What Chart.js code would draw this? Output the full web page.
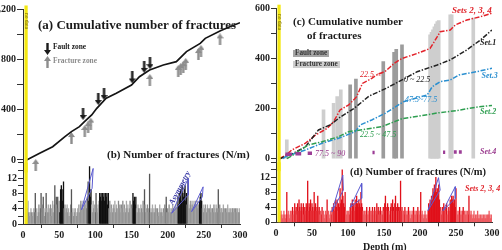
<!DOCTYPE html>
<html>
<head>
<meta charset="utf-8">
<title>Fracture profiles</title>
<script src="https://cdn.jsdelivr.net/npm/chart.js@4.4.1/dist/chart.umd.min.js"></script>
<style>
  html, body { margin: 0; padding: 0; background: #fff; }
  #fig { position: relative; width: 502px; height: 250px; overflow: hidden; font-family: "Liberation Serif", "Times New Roman", serif; }
  #fig canvas { position: absolute; }
  .lbl { position: absolute; white-space: nowrap; line-height: 1; }
  .b { font-weight: bold; }
  .i { font-style: italic; }
  .box { position: absolute; white-space: nowrap; line-height: 7px; height: 7px; font-weight: bold; color: #333; padding: 0 2px; }
  .rot { transform-origin: center; }
</style>
</head>
<body>
<div id="fig">
  <canvas id="cumA" width="250" height="180" style="left:0;top:0"></canvas>
  <canvas id="barB" width="250" height="95" style="left:0;top:155px"></canvas>
  <canvas id="cumC" width="252" height="180" style="left:250px;top:0"></canvas>
  <canvas id="barD" width="252" height="95" style="left:250px;top:155px"></canvas>

  <!-- left panel text -->
  <div class="lbl b" style="left:38px;top:17.5px;font-size:13px;color:#1a1a1a">(a) Cumulative number of fractures</div>
  <div class="lbl b" style="left:53px;top:43px;font-size:7.4px;color:#1a1a1a">Fault zone</div>
  <div class="lbl b" style="left:53px;top:57.3px;font-size:7.4px;color:#8c8c8c">Fracture zone</div>
  <div class="lbl b" style="left:107px;top:148.5px;font-size:11px;color:#1a1a1a">(b) Number of fractures (N/m)</div>
  <div class="lbl b i rot" style="left:180px;top:188px;font-size:8px;color:#3c3ca8;transform:translate(-50%,-50%) rotate(-62deg)">Asymmetry</div>
  <div class="lbl rot" style="left:26px;top:21px;font-size:5.5px;color:#6b5d00;transform:translate(-50%,-50%) rotate(90deg)">no data</div>

  <!-- right panel text -->
  <div class="lbl b" style="left:293px;top:16.2px;font-size:11px;color:#1a1a1a">(c) Cumulative number</div>
  <div class="lbl b" style="left:307px;top:29.5px;font-size:11px;color:#1a1a1a">of fractures</div>
  <div class="box" style="left:293px;top:50px;font-size:7.2px;background:#a6a6a6">Fault zone</div>
  <div class="box" style="left:293px;top:61px;font-size:7.2px;background:#cdcdcd">Fracture zone</div>
  <div class="lbl b i" style="left:452px;top:6px;font-size:9px;color:#e0242b">Sets 2, 3, 4</div>
  <div class="lbl b i" style="left:480px;top:38.7px;font-size:8px;color:#222">Set.1</div>
  <div class="lbl b i" style="left:481.5px;top:72px;font-size:8px;color:#2a8fd0">Set.3</div>
  <div class="lbl b i" style="left:480px;top:107.7px;font-size:8px;color:#2e9e50">Set.2</div>
  <div class="lbl b i" style="left:480px;top:148.3px;font-size:8px;color:#9a3b8e">Set.4</div>
  <div class="lbl i" style="left:360px;top:71px;font-size:8px;color:#e0242b">22.5 &lt;</div>
  <div class="lbl i" style="left:404px;top:76px;font-size:8px;color:#222">0 ~ 22.5</div>
  <div class="lbl i" style="left:405px;top:96px;font-size:8px;color:#2a8fd0">47.5~77.5</div>
  <div class="lbl i" style="left:360px;top:131px;font-size:8px;color:#2e9e50">22.5 ~ 47.5</div>
  <div class="lbl i" style="left:315px;top:149.5px;font-size:8px;color:#9a3b8e">77.5 ~ 90</div>
  <div class="lbl b" style="left:350px;top:167.2px;font-size:10.5px;color:#1a1a1a">(d) Number of fractures (N/m)</div>
  <div class="lbl b i" style="left:465px;top:185px;font-size:8px;color:#e0242b">Sets 2, 3, 4</div>
  <div class="lbl b" style="left:363px;top:242px;font-size:10px;color:#1a1a1a">Depth (m)</div>
  <div class="lbl rot" style="left:278.7px;top:22px;font-size:5.5px;color:#6b5d00;transform:translate(-50%,-50%) rotate(90deg)">no data</div>
</div>

<script>
/* =====================
   FRACTURE PROFILES
   ===================== */

/* ---- DATA ---- */
const NO_DATA = [2, 6.5];          // depth interval without core (m)
const FIRST_DEPTH = 5;             // first metre of the N/m logs

// (a) cumulative number, all fractures
const CUM_DEPTH = [5, 23, 41, 58, 67, 78, 85, 95, 102, 115, 129, 150, 161, 175, 194, 212, 226, 245, 252, 273, 286, 300];
const CUM_COUNT = [0, 53, 106, 186, 226, 266, 305, 359, 412, 492, 532, 598, 664, 718, 757, 784, 864, 930, 970, 1031, 1063, 1095];

const FAULT_ARROW_DEPTH = [83, 104, 112, 151, 167.5, 175.5];
const FAULT_ARROW_AT    = [367, 486, 526, 658, 742, 772];
const FRACT_ARROW_DEPTH = [17.6, 67, 85.4, 90, 93.7, 175.4, 214.6, 218, 221.5, 225, 242.5, 246, 272.4];
const FRACT_ARROW_AT    = [-40, 175, 231, 262, 290, 638, 710, 725, 740, 766, 845, 870, 962];

// (b) fractures per metre, all sets
const GREY_N = [
  3,4,6,3,2,3,4,3,2,3,  4,3,8,3,4,2,3,5,3,4,  8,3,5,7,4,2,3,8,4,3,  5,3,4,5,2,4,6,3,5,10,
  4,7,5,7,4,6,3,9,10,9, 6,11,4,5,3,4,5,3,4,2, 3,5,9,3,4,2,3,4,3,2,  3,4,5,3,5,6,4,5,6,4,
  6,5,6,4,7,11,6,15,7,9, 5,3,6,4,5,3,8,4,3,5, 6,8,7,8,6,8,7,8,6,8,  7,8,5,8,4,6,3,5,4,3,
  5,4,6,3,5,4,3,6,4,5,  3,5,4,6,3,5,4,3,6,4,  5,3,4,6,3,5,4,8,6,7,  5,7,4,3,5,4,4,3,5,4,
  3,6,4,9,5,3,4,5,3,4,  13,3,4,3,5,3,4,3,5,4, 3,4,2,3,5,3,4,3,2,4,  3,5,4,7,3,4,3,5,4,3,
  4,3,5,4,3,4,5,4,6,7,  5,8,7,9,6,10,8,7,9,10, 6,8,5,12,6,4,5,6,4,5, 6,4,5,6,4,5,6,4,5,6,
  7,8,6,4,5,3,4,5,4,3,  5,4,3,4,5,3,4,4,3,5,  4,3,5,4,3,9,4,5,3,4,  4,3,5,4,3,4,3,4,5,3,
  4,3,4,3,4,4,3,4,3,4,  3,4,3,3,4,3
];
const DARK_ZONES = [[51, 56], [91, 94], [106, 118], [152, 156], [215, 226], [244, 247]];
const TRI_B = [
  [[80.8, 3.7], [97, 14.5], [95.5, 9.3]],
  [[205.5, 2.8], [228.5, 11.9], [228.5, 7.6]],
  [[233, 3.2], [249, 9.7], [248, 7.1]]
];

// (c) cumulative number by orientation set
const ZONE_DEPTH = [15, 66, 80, 85, 90, 103, 111, 149, 164, 167, 175, 214, 216, 218, 220, 222, 224, 226, 242, 244, 274];
const ZONE_TOP   = [75, 195, 221, 248, 275, 295, 318, 388, 425, 437, 455, 495, 505, 515, 527, 538, 548, 552, 575, 575, 562];
const ZONE_FAULT = [0, 0, 0, 0, 0, 1, 1, 1, 1, 1, 1, 0, 0, 0, 0, 0, 0, 0, 0, 0, 0];

const SET234_DEPTH = [5, 14, 22, 41, 55, 71, 80, 89, 101, 112, 120, 133, 140, 152, 159, 164, 175, 196, 214, 224, 228, 242, 249, 265, 284, 300];
const SET234_COUNT = [0, 15, 35, 62, 95, 121, 148, 195, 215, 248, 301, 321, 335, 350, 368, 381, 401, 421, 441, 488, 508, 515, 535, 555, 568, 582];
const SET1_DEPTH = [5, 20, 41, 59, 75, 90, 108, 129, 152, 177, 196, 224, 242, 265, 284, 300];
const SET1_COUNT = [0, 15, 48, 115, 135, 168, 200, 250, 280, 318, 348, 375, 395, 435, 475, 515];
const SET3_DEPTH = [10, 13, 41, 64, 87, 110, 117, 133, 152, 177, 210, 217, 228, 242, 254, 279, 300];
const SET3_COUNT = [0, 8, 35, 62, 82, 108, 135, 155, 182, 228, 255, 288, 308, 315, 335, 348, 362];
const SET2_DEPTH = [15, 20, 45, 64, 87, 101, 147, 175, 210, 224, 250, 280, 300];
const SET2_COUNT = [0, 8, 55, 68, 88, 108, 128, 160, 176, 183, 192, 207, 213];
const SET4_FROM  = [13, 27, 44, 134, 232, 247, 254];
const SET4_TO    = [22, 35, 50, 137, 235, 251, 258];
const SET4_LEVEL = [18, 20, 22, 25, 26, 27, 27];

// (d) fractures per metre, sets 2, 3, 4
const RED_N = [
  3,2,3,2,1,2,3,2,1,2,  8,2,3,2,1,3,2,3,4,2,  3,5,3,4,2,5,3,6,4,3,  5,4,3,5,2,4,3,5,4,11,
  3,5,4,6,3,5,4,3,8,4,  5,3,4,7,3,4,2,3,2,4,  2,3,1,2,3,2,6,2,3,1,  2,3,2,4,3,5,3,4,6,4,
  6,3,5,4,9,5,6,14,7,5, 4,8,3,2,3,2,3,2,4,5,  3,6,4,5,3,6,4,7,5,4,  6,5,4,8,5,4,3,2,3,2,
  3,4,2,3,2,4,3,2,3,4,  3,2,4,3,2,5,3,4,2,3,  4,2,3,2,4,3,5,7,4,3,  5,4,3,2,4,5,3,6,4,3,
  5,7,4,3,5,4,3,4,11,3, 4,2,3,2,4,3,2,3,2,4,  2,3,1,2,3,2,4,2,3,2,  3,2,4,3,2,3,8,2,3,2,
  1,2,3,2,1,2,3,5,4,6,  5,7,6,9,8,10,9,12,8,9, 7,10,6,4,3,2,4,3,5,3, 4,3,5,2,3,4,3,6,5,7,
  6,7,5,6,4,9,3,2,3,2,  4,2,3,2,3,4,2,3,2,3,  2,3,2,7,3,2,3,2,1,2,  3,1,2,1,2,3,1,2,1,2,
  1,2,1,2,1,2,1,2,1,2,  2,3,2,1,2,1
];
const TRI_D = [
  [[77.5, 2.8], [92.8, 12.6], [93.6, 8.6]],
  [[103, 4], [119, 10.4], [119, 6.4]],
  [[211, 3.1], [225.7, 11.9], [228, 8.6]],
  [[232, 3.1], [249, 9.5], [249, 6.4]]
];

/* ---- STYLE ---- */
const AXIS = '#333';
const YELLOW = '#f4e812';
const TRI_COLOR = '#5b5bd0';
const TICK_FONT = { family: 'Liberation Serif', size: 10, weight: 'bold' };

/* ---- HELPERS ---- */
function pairs(xs, ys) {
  return xs.map((x, i) => ({ x, y: ys[i] }));
}

function perMetre(vals) {
  return vals.map((v, i) => ({ x: FIRST_DEPTH + i, y: v }));
}

function inDark(d) {
  return DARK_ZONES.some(([a, b]) => d >= a && d <= b);
}

function arrowImage(color, up) {
  const c = document.createElement('canvas');
  c.width = 7; c.height = 12;
  const g = c.getContext('2d');
  const pts = [[3.5, 0], [7, 5], [4.7, 5], [4.7, 12], [2.3, 12], [2.3, 5], [0, 5]];
  g.fillStyle = color;
  g.beginPath();
  pts.forEach(([x, y], i) => {
    const yy = up ? y : 12 - y;
    i ? g.lineTo(x, yy) : g.moveTo(x, yy);
  });
  g.closePath();
  g.fill();
  return c;
}

function triangle(t) {
  const d = [...t, t[0]].map(([x, y]) => ({ x, y }));
  return { type: 'line', data: d, borderColor: TRI_COLOR, borderWidth: 1, pointRadius: 0, order: 0 };
}

function setLine(xs, ys, color) {
  return {
    type: 'line', data: pairs(xs, ys), borderColor: color, borderWidth: 1.5,
    borderDash: [5, 1.6, 1.4, 1.6], pointRadius: 0, order: 1
  };
}

function set4Data() {
  const out = [];
  SET4_FROM.forEach((a, i) => {
    out.push({ x: a, y: SET4_LEVEL[i] }, { x: SET4_TO[i], y: SET4_LEVEL[i] }, { x: SET4_TO[i] + 0.5, y: null });
  });
  return out;
}

/* ---- SCALES ---- */
function yScale(o) {
  return {
    min: o.min, max: o.max,
    afterFit: s => { s.width = o.width; },
    afterBuildTicks: s => { s.ticks = s.ticks.filter(t => t.value >= 0 && t.value % o.step === 0); },
    grid: { drawOnChartArea: false, tickLength: o.tick, color: AXIS },
    border: { display: true, color: AXIS, width: 1 },
    ticks: {
      stepSize: o.step, padding: 1, color: '#1e1e1e', font: TICK_FONT, autoSkip: false,
      callback: v => (v % o.label === 0 && v <= o.last) ? v.toLocaleString('en-US') : ''
    }
  };
}

function xScale(show, height) {
  return {
    type: 'linear', min: 0, max: 300, offset: false, display: show,
    afterFit: s => { if (show) s.height = height; },
    grid: { drawOnChartArea: false, tickLength: 4, color: AXIS },
    border: { display: true, color: AXIS, width: 1 },
    ticks: { stepSize: 50, padding: 1, color: '#1e1e1e', font: TICK_FONT, maxRotation: 0, autoSkip: false }
  };
}

/* ---- NO DATA BAND ---- */
const noDataBand = {
  id: 'noData',
  afterDatasetsDraw(chart, args, opts) {
    const { ctx, chartArea, scales: { x } } = chart;
    const x0 = x.getPixelForValue(NO_DATA[0]);
    const x1 = x.getPixelForValue(NO_DATA[1]);
    ctx.save();
    ctx.fillStyle = YELLOW;
    ctx.fillRect(x0, chartArea.top - opts.up, x1 - x0, chartArea.bottom - chartArea.top + opts.up);
    ctx.restore();
  }
};
Chart.register(noDataBand);

function base(padding, scales, up) {
  return {
    responsive: false, animation: false, events: [],
    layout: { padding },
    plugins: { legend: { display: false }, tooltip: { enabled: false }, noData: { up } },
    scales
  };
}

/* ---- (a) ---- */
new Chart(document.getElementById('cumA'), {
  type: 'scatter',
  data: { datasets: [
    { data: pairs(CUM_DEPTH, CUM_COUNT), showLine: true, borderColor: '#151515', borderWidth: 1.7, pointRadius: 0 },
    { data: pairs(FAULT_ARROW_DEPTH, FAULT_ARROW_AT), pointStyle: arrowImage('#1b1b1b', false), pointRadius: 3, clip: false },
    { data: pairs(FRACT_ARROW_DEPTH, FRACT_ARROW_AT), pointStyle: arrowImage('#8d8d8d', true), pointRadius: 3, clip: false }
  ]},
  options: base({ top: 9.5, right: 10, bottom: 7.5, left: 0 }, {
    x: xScale(false),
    y: yScale({ min: -100, max: 1200, step: 200, label: 400, last: 1200, width: 23, tick: 6 })
  }, 4)
});

/* ---- (b) ---- */
new Chart(document.getElementById('barB'), {
  type: 'bar',
  data: { datasets: [
    {
      data: perMetre(GREY_N), barThickness: 0.65, order: 2,
      backgroundColor: c => {
        const d = FIRST_DEPTH + c.dataIndex;
        const v = GREY_N[c.dataIndex];
        if (inDark(d)) return '#101010';
        if (v >= 7) return '#555555';
        return c.dataIndex % 2 ? '#8a8a8a' : '#a8a8a8';
      }
    },
    ...TRI_B.map(triangle)
  ]},
  options: base({ top: 7.7, right: 10, bottom: 0, left: 0 }, {
    x: xScale(true, 26),
    y: yScale({ min: 0, max: 16, step: 2, label: 4, last: 12, width: 23, tick: 5 })
  }, 0)
});

/* ---- (c) ---- */
new Chart(document.getElementById('cumC'), {
  type: 'bar',
  data: { datasets: [
    {
      data: pairs(ZONE_DEPTH, ZONE_TOP), barThickness: 3, order: 5,
      backgroundColor: c => ZONE_FAULT[c.dataIndex] ? '#9c9c9c' : '#cecece'
    },
    setLine(SET2_DEPTH, SET2_COUNT, '#2e9e50'),
    setLine(SET3_DEPTH, SET3_COUNT, '#2a8fd0'),
    setLine(SET1_DEPTH, SET1_COUNT, '#222222'),
    setLine(SET234_DEPTH, SET234_COUNT, '#e3232b'),
    { type: 'line', data: set4Data(), borderColor: '#9c3d96', borderWidth: 3.5, pointRadius: 0, spanGaps: false, order: 0 }
  ]},
  options: base({ top: 8.7, right: 10, bottom: 8.8, left: 0 }, {
    x: xScale(false),
    y: yScale({ min: -50, max: 600, step: 100, label: 200, last: 600, width: 26, tick: 5 })
  }, 4)
});

/* ---- (d) ---- */
new Chart(document.getElementById('barD'), {
  type: 'bar',
  data: { datasets: [
    {
      data: perMetre(RED_N), barThickness: 0.65, order: 2,
      backgroundColor: c => RED_N[c.dataIndex] >= 4 ? '#e0101a' : '#ee5a60'
    },
    ...TRI_D.map(triangle)
  ]},
  options: base({ top: 7.3, right: 10, bottom: 0, left: 0 }, {
    x: xScale(true, 27.7),
    y: yScale({ min: 0, max: 16, step: 2, label: 4, last: 12, width: 26, tick: 5 })
  }, 0)
});

/* ---- LEGEND ARROWS (a) ---- */
[['#1b1b1b', false, 43], ['#8d8d8d', true, 55.5]].forEach(([col, up, top]) => {
  const img = arrowImage(col, up);
  img.style.left = '43.5px';
  img.style.top = top + 'px';
  document.getElementById('fig').appendChild(img);
});
</script>
</body>
</html>
